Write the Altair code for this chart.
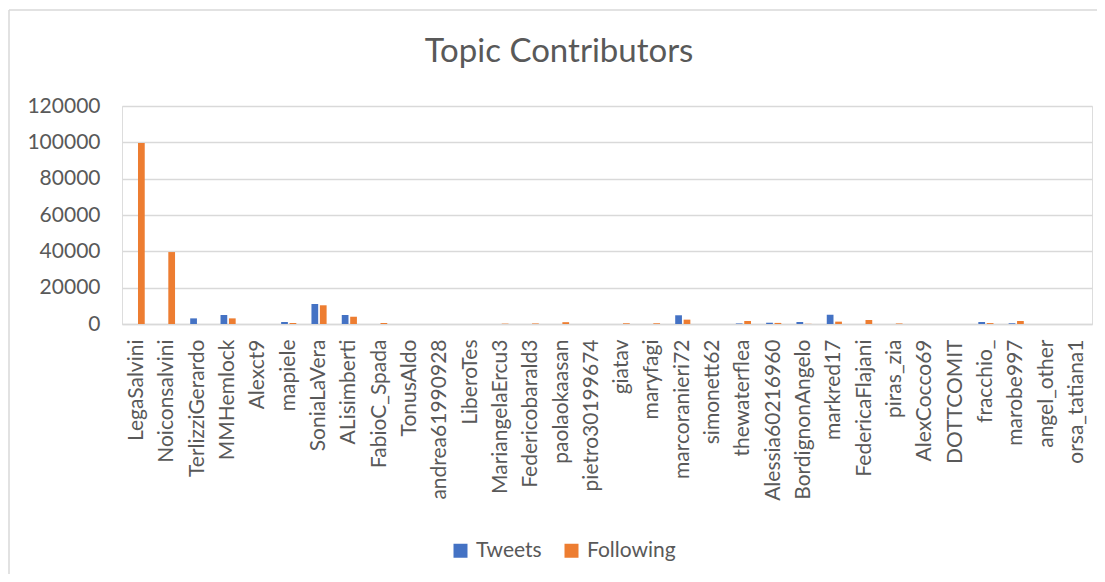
import altair as alt
import pandas as pd

title_text = "Topic Contributors"
categories = ["LegaSalvini", "Noiconsalvini", "TerlizziGerardo", "MMHemlock", "Alexct9",
              "mapiele", "SoniaLaVera", "ALisimberti", "FabioC_Spada", "TonusAldo",
              "andrea61990928", "LiberoTes", "MariangelaErcu3", "Federicobarald3",
              "paolaokaasan", "pietro30199674", "giatav", "maryfagi", "marcoranieri72",
              "simonett62", "thewaterflea", "Alessia60216960", "BordignonAngelo",
              "markred17", "FedericaFlajani", "piras_zia", "AlexCocco69", "DOTTCOMIT",
              "fracchio_", "marobe997", "angel_other", "orsa_tatiana1"]
tweets = [0, 0, 3100, 4950, 0, 1100, 11000, 4950, 0, 0, 0, 0, 0, 0, 0, 0,
          0, 0, 4800, 0, 300, 700, 1100, 5100, 0, 0, 0, 0, 1100, 400, 0, 0]
following = [99600, 39600, 0, 3100, 0, 550, 10300, 4000, 550, 0, 0, 0, 200, 300, 1000, 0,
             400, 400, 2400, 0, 1650, 600, 100, 1300, 2200, 300, 0, 0, 500, 1650, 0, 0]
series = ["Tweets", "Following"]
colors = ["#4472C4", "#ED7D31"]
y_ticks = [0, 20000, 40000, 60000, 80000, 100000, 120000]

rows = []
for i, c in enumerate(categories):
    rows.append({"user": c, "series": "Tweets", "value": tweets[i]})
    rows.append({"user": c, "series": "Following", "value": following[i]})
df = pd.DataFrame(rows)

FONT = "Lato"
GRAY = "#595959"
GRID = "#d9d9d9"

bars = alt.Chart(df).mark_bar().encode(
    x=alt.X("user:N", sort=categories, title=None,
            scale=alt.Scale(paddingInner=0.5, paddingOuter=0.25),
            axis=alt.Axis(labelAngle=-90, labelFontSize=21, labelFont=FONT,
                          labelColor=GRAY, ticks=False, domainColor=GRID,
                          domainWidth=1.3, labelPadding=15, labelOverlap=False)),
    xOffset=alt.XOffset("series:N", sort=series,
                        scale=alt.Scale(paddingInner=0.2, paddingOuter=0)),
    y=alt.Y("value:Q", title=None,
            scale=alt.Scale(domain=[0, 120000], nice=False),
            axis=alt.Axis(values=y_ticks, format="d", labelFontSize=21, labelFont=FONT,
                          labelColor=GRAY, ticks=False, domain=False,
                          gridColor=GRID, gridWidth=1.3, labelPadding=22)),
    color=alt.Color("series:N", sort=series,
                    scale=alt.Scale(domain=series, range=colors),
                    legend=alt.Legend(title=None, orient="none", legendX=328, legendY=434,
                                      direction="horizontal", symbolType="square",
                                      symbolSize=196, symbolStrokeWidth=0,
                                      labelFontSize=21, labelFont=FONT, labelColor=GRAY,
                                      columnPadding=19, labelOffset=5, padding=0)),
)

one = alt.Data(values=[{"k": 1}])
border_left = alt.Chart(one).mark_rule(color=GRID, strokeWidth=1.5).encode(
    x=alt.value(-113), y=alt.value(-96), y2=alt.value(470))
border_top = alt.Chart(one).mark_rule(color=GRID, strokeWidth=1.5).encode(
    x=alt.value(-113), x2=alt.value(975), y=alt.value(-96))
title = alt.Chart(one).mark_text(fontSize=33, font=FONT, color=GRAY, align="center",
                                 baseline="alphabetic").encode(
    x=alt.value(437), y=alt.value(-44), text=alt.value(title_text))

chart = alt.layer(bars, border_left, border_top, title).properties(
    width=970, height=218,
    autosize=alt.AutoSizeParams(type="none"),
    padding={"left": 114, "top": 98, "right": 5, "bottom": 250},
).configure_view(stroke=None).configure(background="white")

chart.save("out.html", embed_options={"renderer": "svg", "actions": False})
